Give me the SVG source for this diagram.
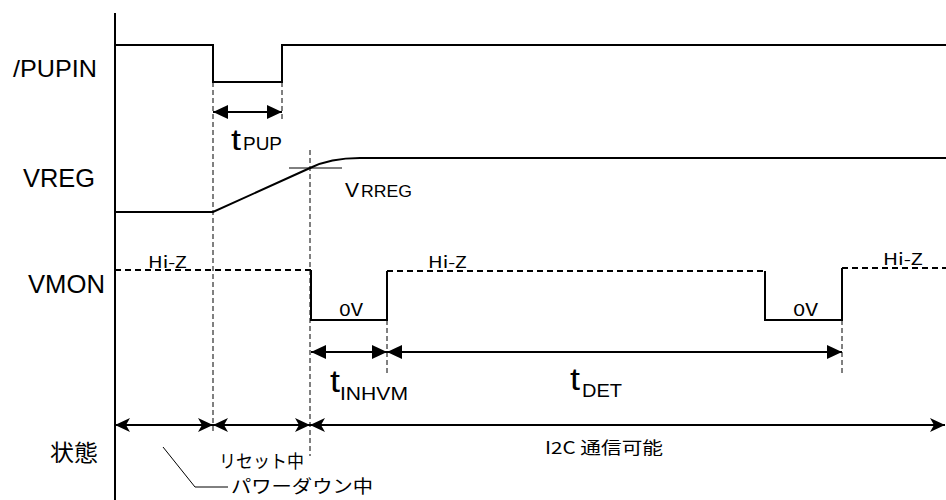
<svg xmlns="http://www.w3.org/2000/svg" width="946" height="500" viewBox="0 0 946 500">
<style>
.sig{fill:none;stroke:#000;stroke-width:2}
.hiz{fill:none;stroke:#000;stroke-width:2;stroke-dasharray:6,4}
.guide{fill:none;stroke:#000;stroke-width:1;stroke-dasharray:5,3}
.thin{fill:none;stroke:#000;stroke-width:1}
.arr{fill:none;stroke:#000;stroke-width:2}
.lab{font-family:"Liberation Sans",Arial,sans-serif;fill:#000}
.jp{font-family:"Noto Sans CJK JP","Liberation Sans",sans-serif;fill:#000}
</style>
<defs>
<marker id="tri" markerUnits="userSpaceOnUse" markerWidth="16" markerHeight="14" refX="15" refY="7" orient="auto-start-reverse" viewBox="0 0 16 14">
<path d="M0,0 L15,7 L0,14 z" fill="#000"/>
</marker>
<marker id="stealth" markerUnits="userSpaceOnUse" markerWidth="16" markerHeight="14" refX="15" refY="7" orient="auto-start-reverse" viewBox="0 0 16 14">
<path d="M0,0 L15,7 L0,14 L4,7 z" fill="#000"/>
</marker>
</defs>
<rect width="946" height="500" fill="#fff"/>

<g id="axis">
<line x1="115" y1="13" x2="115" y2="500" class="sig"/>
</g>

<g id="labels">
<text class="lab" x="13" y="77" font-size="24" textLength="84" lengthAdjust="spacingAndGlyphs">/PUPIN</text>
<text class="lab" x="23" y="187" font-size="25" textLength="72" lengthAdjust="spacingAndGlyphs">VREG</text>
<text class="lab" x="28" y="293" font-size="25" textLength="77" lengthAdjust="spacingAndGlyphs">VMON</text>
<text class="jp" x="50" y="461" font-size="23" textLength="48" lengthAdjust="spacingAndGlyphs">状態</text>
</g>

<g id="pupin">
<path class="sig" d="M115,45 H213 V82 H282 V45 H946"/>
</g>

<g id="vreg">
<path class="sig" d="M115,212 H213 L310,168 C324,161 338,158 360,158 H946"/>
<line class="thin" x1="289" y1="168" x2="342" y2="168"/>
<text class="lab" x="345" y="197" font-size="21">V</text>
<text class="lab" x="361" y="197" font-size="17" textLength="51" lengthAdjust="spacingAndGlyphs">RREG</text>
</g>

<g id="vmon">
<path class="hiz" d="M115,270 H311"/>
<path class="sig" d="M311,270 V320 H387 V271"/>
<path class="hiz" d="M387,271 H765"/>
<path class="sig" d="M765,271 V320 H842 V268"/>
<path class="hiz" d="M842,268 H946"/>
<text class="jp" x="148" y="268" font-size="16" textLength="39" lengthAdjust="spacingAndGlyphs">Hi-Z</text>
<text class="jp" x="428" y="268" font-size="16" textLength="39" lengthAdjust="spacingAndGlyphs">Hi-Z</text>
<text class="jp" x="883" y="265" font-size="16" textLength="40" lengthAdjust="spacingAndGlyphs">Hi-Z</text>
<text class="jp" x="339" y="316" font-size="17" textLength="24" lengthAdjust="spacingAndGlyphs">0V</text>
<text class="jp" x="793" y="316" font-size="17" textLength="25" lengthAdjust="spacingAndGlyphs">0V</text>
</g>

<g id="guides">
<line class="guide" x1="213" y1="82" x2="213" y2="432"/>
<line class="guide" x1="282" y1="82" x2="282" y2="122"/>
<line class="guide" x1="310" y1="150" x2="310" y2="456"/>
<line class="guide" x1="387" y1="320" x2="387" y2="374"/>
<line class="guide" x1="842" y1="320" x2="842" y2="374"/>
</g>

<g id="connectors">
<line class="arr" x1="213" y1="112" x2="282" y2="112" marker-start="url(#tri)" marker-end="url(#tri)"/>
<line class="arr" x1="311" y1="352" x2="387" y2="352" marker-start="url(#tri)" marker-end="url(#tri)"/>
<line class="arr" x1="387" y1="352" x2="842" y2="352" marker-start="url(#tri)" marker-end="url(#tri)"/>
<line class="arr" x1="115" y1="425" x2="213" y2="425" marker-start="url(#stealth)" marker-end="url(#stealth)"/>
<line class="arr" x1="213" y1="425" x2="310" y2="425" marker-start="url(#stealth)" marker-end="url(#stealth)"/>
<line class="arr" x1="310" y1="425" x2="945" y2="425" marker-start="url(#stealth)" marker-end="url(#stealth)"/>
<path class="thin" d="M163,447 L195,487 H228"/>
</g>

<g id="timing-labels">
<text class="lab" x="231" y="150" font-size="29" textLength="10" lengthAdjust="spacingAndGlyphs">t</text>
<text class="lab" x="243" y="150" font-size="18" textLength="39" lengthAdjust="spacingAndGlyphs">PUP</text>
<text class="lab" x="330" y="392" font-size="31" textLength="10" lengthAdjust="spacingAndGlyphs">t</text>
<text class="lab" x="340" y="400" font-size="19" textLength="68" lengthAdjust="spacingAndGlyphs">INHVM</text>
<text class="lab" x="570" y="390" font-size="31" textLength="10" lengthAdjust="spacingAndGlyphs">t</text>
<text class="lab" x="582" y="397" font-size="19" textLength="40" lengthAdjust="spacingAndGlyphs">DET</text>
</g>

<g id="states">
<text class="jp" x="219" y="468" font-size="18" textLength="85" lengthAdjust="spacingAndGlyphs">リセット中</text>
<text class="jp" x="231" y="493" font-size="18" textLength="142" lengthAdjust="spacingAndGlyphs">パワーダウン中</text>
<text class="jp" x="545" y="454" font-size="17" textLength="118" lengthAdjust="spacingAndGlyphs">I2C 通信可能</text>
</g>
</svg>
